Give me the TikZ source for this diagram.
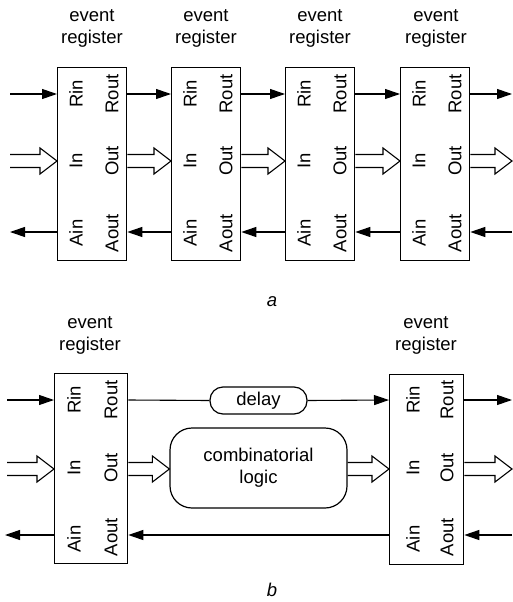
\documentclass[tikz,border=0pt]{standalone}
\usepackage{fontspec}
\setmainfont{Liberation Sans}
\usetikzlibrary{arrows.meta,calc}

% hollow bus arrow from #1 to #2 (horizontal, open at the tail)
\newcommand\busarrow[2]{%
  \draw[busline] let \p1=#1, \p2=#2 in
    (\x1,\y1+6.5pt) -- (\x2-17pt,\y1+6.5pt) -- (\x2-17pt,\y1+13pt) -- (\x2,\y1)
    -- (\x2-17pt,\y1-13pt) -- (\x2-17pt,\y1-6.5pt) -- (\x1,\y1-6.5pt);}

\begin{document}
\begin{tikzpicture}[x=1pt,y=-1pt,
  every node/.style={font=\fontsize{18.5}{22}\selectfont},
  reg/.style={draw,line width=1.3pt,rectangle,inner sep=0pt,anchor=north west},
  lbl/.style={align=center,inner sep=0pt},
  port/.style={rotate=90,inner sep=0pt},
  sig/.style={line width=1.1pt,-{Triangle[length=15pt,width=10pt]}},
  wire/.style={line width=1.1pt},
  busline/.style={line width=1.1pt,line join=miter},
  proc/.style={draw,line width=1.2pt,inner sep=0pt,align=center}]

\useasboundingbox (0,0) rectangle (513,602);

% ---------------- (a) chain of event registers ----------------
\foreach \n/\L/\lx in {1/57/92,2/171/206,3/285/320,4/400/436}{
  \node[reg,minimum width=69pt,minimum height=193pt] (a\n) at (\L,67) {};
  \node[lbl] (ta\n) at (\lx,28) {event\\register};
  \node[port] (rin\n)  at ({\L+19},94)  {Rin};
  \node[port] (in\n)   at ({\L+19},161) {In};
  \node[port] (ain\n)  at ({\L+19},233) {Ain};
  \node[port] (rout\n) at ({\L+55},94)  {Rout};
  \node[port] (out\n)  at ({\L+55},161) {Out};
  \node[port] (aout\n) at ({\L+55},233) {Aout};
}

\coordinate (aR0) at (10,94);   \coordinate (aR5) at (512,94);
\coordinate (aD0) at (10,161);  \coordinate (aD5) at (512,161);
\coordinate (aA0) at (10,232);  \coordinate (aA5) at (512,232);

% request wires
\draw[sig] (aR0) -- (a1.west|-aR0);
\foreach \i/\j in {1/2,2/3,3/4}{
  \draw[sig] (a\i.east|-aR0) -- (a\j.west|-aR0);
  \busarrow{(a\i.east|-aD0)}{(a\j.west|-aD0)}
  \draw[sig] (a\j.west|-aA0) -- (a\i.east|-aA0);
}
\draw[sig] (a4.east|-aR5) -- (aR5);
% data
\busarrow{(aD0)}{(a1.west|-aD0)}
\busarrow{(a4.east|-aD5)}{(aD5)}
% acknowledge
\draw[sig] (a1.west|-aA0) -- (aA0);
\draw[sig] (aA5) -- (a4.east|-aA5);

\node[font=\fontsize{18.5}{22}\selectfont\itshape] (capa) at (272,302) {a};

% ---------------- (b) registers with logic between ----------------
\node[reg,minimum width=73pt,minimum height=190pt] (bL) at (54,373) {};
\node[reg,minimum width=74pt,minimum height=190pt] (bR) at (389,374) {};
\node[lbl] (tbL) at (90,335) {event\\register};
\node[lbl] (tbR) at (426,335) {event\\register};

\foreach \b/\xl/\xr in {L/74/111,R/413/447}{
  \node[port] at (\xl,400) {Rin};
  \node[port] at (\xl,468) {In};
  \node[port] at (\xl,539) {Ain};
  \node[port] at (\xr,400) {Rout};
  \node[port] at (\xr,468) {Out};
  \node[port] at (\xr,537) {Aout};
}

\node[proc,minimum width=97pt,minimum height=27pt,rounded corners=13pt] (dly) at (258.5,400.5) {delay};
\node[proc,minimum width=177pt,minimum height=80pt,rounded corners=22pt] (cl) at (258.5,468) {combinatorial\\logic};

\coordinate (bR0) at (7,400);   \coordinate (bR5) at (512,400);
\coordinate (bD0) at (7,469);   \coordinate (bD5) at (512,469);
\coordinate (bA0) at (5,535);   \coordinate (bA5) at (512,535);

% request path through the delay
\draw[sig] (bR0) -- (bL.west|-bR0);
\draw[wire] (bL.east|-bR0) -- (dly.west);
\draw[sig] (dly.east) -- (bR.west|-bR0);
\draw[sig] (bR.east|-bR5) -- (bR5);
% data path through the logic
\busarrow{(bD0)}{(bL.west|-bD0)}
\busarrow{(bL.east|-bD0)}{(cl.west|-bD0)}
\busarrow{(cl.east|-bD0)}{(bR.west|-bD0)}
\busarrow{(bR.east|-bD5)}{(bD5)}
% acknowledge path
\draw[sig] (bL.west|-bA0) -- (bA0);
\draw[sig] (bR.west|-bA0) -- (bL.east|-bA0);
\draw[sig] (bA5) -- (bR.east|-bA5);

\node[font=\fontsize{18.5}{22}\selectfont\itshape] (capb) at (272,590) {b};
\end{tikzpicture}
\end{document}
